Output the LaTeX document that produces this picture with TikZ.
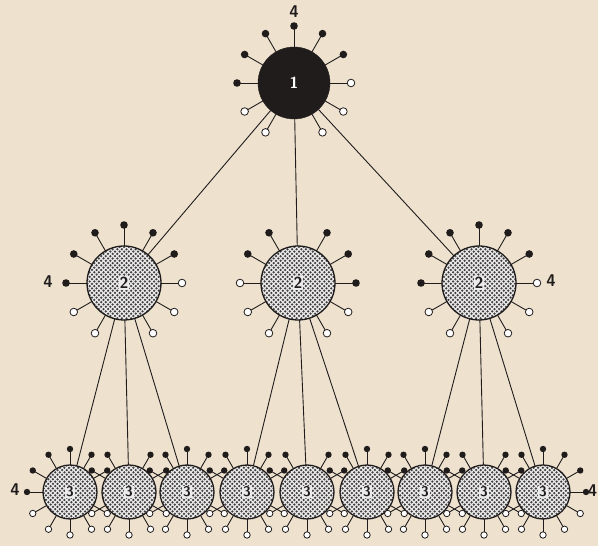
\documentclass[tikz,border=0pt]{standalone}
\usepackage{tikz}
\usetikzlibrary{patterns}

\definecolor{paper}{RGB}{238,226,207}
\definecolor{ink}{RGB}{32,28,28}

% dotted fill of the light discs
\pgfdeclarepatternformonly{stipple}{\pgfqpoint{-1.4pt}{-1.4pt}}{\pgfqpoint{5.9pt}{5.9pt}}{\pgfqpoint{4.6pt}{4.6pt}}{%
  \pgfpathcircle{\pgfqpoint{0pt}{0pt}}{1.25pt}%
  \pgfpathcircle{\pgfqpoint{2.3pt}{2.3pt}}{1.25pt}%
  \pgfusepath{fill}}

% spokes: node, length, dot radius, black ends, white ends
\newcommand{\spokeset}[5]{%
  \foreach \a in {#4}{\draw[spoke] (#1.\a) -- ++(\a:#2) coordinate (tip);
    \fill[ink] (tip) circle (#3);}
  \foreach \a in {#5}{\draw[spoke] (#1.\a) -- ++(\a:#2) coordinate (tip);
    \filldraw[fill=white, draw=ink, line width=0.8pt] (tip) circle (#3);}
}

\begin{document}
\begin{tikzpicture}[x=1pt, y=1pt,
  hub/.style={circle, fill=ink, draw=ink, minimum size=72pt, inner sep=0pt, outer sep=0pt},
  mid/.style={circle, draw=ink, line width=1.3pt, minimum size=74pt, inner sep=0pt,
              outer sep=0pt, preaction={fill=black!8}, pattern=stipple, pattern color=ink!85},
  leaf/.style={mid, minimum size=54pt},
  spoke/.style={ink, line width=0.9pt},
  link/.style={ink, line width=0.9pt},
  num/.style={font=\sffamily\bfseries\fontsize{16}{16}\selectfont, text=ink,
              fill=black!8, inner sep=1pt},
  smallnum/.style={num, font=\sffamily\bfseries\fontsize{14}{14}\selectfont},
  four/.style={font=\sffamily\bfseries\fontsize{17}{17}\selectfont, text=ink}]

\useasboundingbox[fill=paper] (0,0) rectangle (598,546);

% ---- Top disc -----------------------------------------------------------
\node[hub] (n1) at (294,463) {};
\node[num, fill=none, text=white] (d1) at (n1) {1};

% ---- Second row ---------------------------------------------------------
\node[mid] (n2a) at (124,263) {};
\node[mid] (n2b) at (298,263) {};
\node[mid] (n2c) at (479,263) {};
\foreach \m in {n2a,n2b,n2c} \node[num] (d\m) at (\m) {2};

% ---- Bottom row ---------------------------------------------------------
\foreach \x [count=\i] in {70,129,187,247,307,367,425,484,543}{
  \node[leaf] (c\i) at (\x,54) {};
  \node[smallnum] (dc\i) at (c\i) {3};}

% ---- Links --------------------------------------------------------------
\foreach \m in {n2a,n2b,n2c} \draw[link] (n1) -- (\m);
\foreach \i in {1,2,3} \draw[link] (n2a) -- (c\i);
\foreach \i in {4,5,6} \draw[link] (n2b) -- (c\i);
\foreach \i in {7,8,9} \draw[link] (n2c) -- (c\i);

% ---- Spokes -------------------------------------------------------------
\spokeset{n1}{21}{3.8}{30,60,90,120,150,180}{0,210,240,300,330}
\spokeset{n2a}{21}{3.8}{30,60,90,120,150,180}{0,210,240,300,330}
\spokeset{n2b}{21}{3.8}{0,30,60,120,150}{180,210,240,300,330}
\spokeset{n2c}{21}{3.8}{30,60,90,120,150,180}{0,210,240,300,330}

\spokeset{c1}{16}{3.2}{30,60,90,120,150,180}{210,240,270,300,330}
\foreach \i in {2,5,8}{
  \spokeset{c\i}{16}{3.2}{30,60,120,150}{210,240,270,300,330}}
\foreach \i in {3,4,6,7}{
  \spokeset{c\i}{16}{3.2}{30,60,90,120,150}{210,240,270,300,330}}
\spokeset{c9}{16}{3.2}{0,30,60,90,120,150}{210,240,270,300,330}

% ---- Labels 4 -----------------------------------------------------------
\node[four] (t4) at (294,534) {4};
\node[four] (l4) at (48,264) {4};
\node[four] (r4) at (551,265) {4};
\node[four] (bl4) at (15,56) {4};
\node[four, anchor=east, inner sep=0.5pt] (br4) at (598,55) {4};

\end{tikzpicture}
\end{document}
